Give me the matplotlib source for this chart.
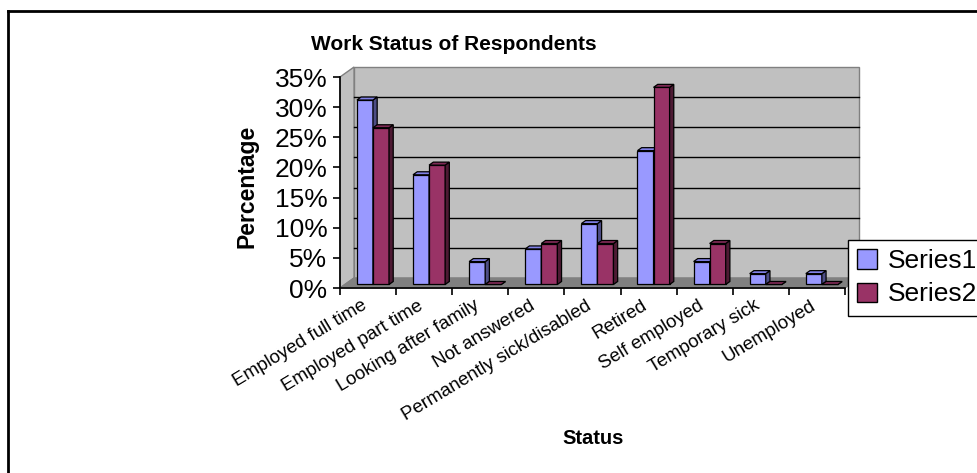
import matplotlib
matplotlib.use("Agg")
import matplotlib.pyplot as plt
from matplotlib.patches import Polygon, Patch
from matplotlib.lines import Line2D

plt.rcParams["font.family"] = ["Liberation Sans", "DejaVu Sans"]

categories = [
    "Employed full time",
    "Employed part time",
    "Looking after family",
    "Not answered",
    "Permanently sick/disabled",
    "Retired",
    "Self employed",
    "Temporary sick",
    "Unemployed",
]
series1 = [30.6, 18.2, 3.8, 5.9, 10.1, 22.2, 3.8, 1.8, 1.8]
series2 = [26.0, 19.8, 0.0, 6.8, 6.8, 32.7, 6.8, 0.0, 0.0]
yticks = [0, 5, 10, 15, 20, 25, 30, 35]

# oblique "3D" depth of the plot box, in data units (categories, percent)
DEPTH_X = 0.25
DEPTH_Y = 1.66
BAR_W = 0.286
YMAX = 35

S1_COLORS = ("#9999FF", "#8080E6", "#4D4D85")
S2_COLORS = ("#993366", "#7E2A55", "#4D1A33")
WALL = "#C0C0C0"
FLOOR = "#808080"


def face(ax, pts, color, z, edge="black", lw=0.9):
    ax.add_patch(Polygon(pts, closed=True, facecolor=color, edgecolor=edge,
                         lw=lw, clip_on=False, zorder=z, joinstyle="miter"))


def draw_bar(ax, x0, h, colors, z):
    front, top, side = colors
    fx, fy = DEPTH_X * 0.35, DEPTH_Y * 0.35
    bx, by = DEPTH_X * 0.65, DEPTH_Y * 0.65
    x1 = x0 + BAR_W
    face(ax, [(x0 + fx, fy), (x1 + fx, fy), (x1 + fx, h + fy), (x0 + fx, h + fy)], front, z)
    face(ax, [(x1 + fx, fy), (x1 + bx, by), (x1 + bx, h + by), (x1 + fx, h + fy)], side, z)
    face(ax, [(x0 + fx, h + fy), (x1 + fx, h + fy), (x1 + bx, h + by), (x0 + bx, h + by)], top, z)


fig = plt.figure(figsize=(9.77, 4.73), dpi=100)
ax = fig.add_axes([340 / 977, 1 - 288 / 473, 505 / 977, 211 / 473])
ax.set_facecolor("none")
n = len(categories)
ax.set_xlim(0, n)
ax.set_ylim(0, YMAX)

# walls and floor
face(ax, [(DEPTH_X, DEPTH_Y), (n + DEPTH_X, DEPTH_Y), (n + DEPTH_X, YMAX + DEPTH_Y),
          (DEPTH_X, YMAX + DEPTH_Y)], WALL, 0.5, edge="#808080", lw=1)
face(ax, [(0, 0), (DEPTH_X, DEPTH_Y), (DEPTH_X, YMAX + DEPTH_Y), (0, YMAX)],
     WALL, 0.6, edge="#808080", lw=1)
face(ax, [(0, 0), (n, 0), (n + DEPTH_X, DEPTH_Y), (DEPTH_X, DEPTH_Y)],
     FLOOR, 0.7, edge="#808080", lw=1)
for v in yticks[1:-1]:
    ax.plot([DEPTH_X, n + DEPTH_X], [v + DEPTH_Y, v + DEPTH_Y], color="black",
            lw=1, clip_on=False, zorder=0.8)

# bars
for i, (a, b) in enumerate(zip(series1, series2)):
    left = i + 0.5 - BAR_W
    draw_bar(ax, left, a, S1_COLORS, 3 + i * 0.01)
    draw_bar(ax, left + BAR_W, b, S2_COLORS, 3 + i * 0.01 + 0.005)

# axes
for s in ["top", "right"]:
    ax.spines[s].set_visible(False)
for s in ["left", "bottom"]:
    ax.spines[s].set_color("black")
    ax.spines[s].set_linewidth(1.2)
    ax.spines[s].set_zorder(2)
ax.set_yticks(yticks)
ax.set_yticklabels([f"{v}%" for v in yticks], fontsize=19)
ax.set_xticks(range(n + 1))
ax.set_xticklabels([])
ax.tick_params(direction="out", length=5, width=1.2, pad=4)

for i, lab in enumerate(categories):
    ax.text(i + 0.45, -2.7, lab, rotation=31, rotation_mode="anchor",
            ha="right", va="center", fontsize=13.5)

fig.text(454 / 977, 1 - 44 / 473, "Work Status of Respondents", ha="center",
         va="center", fontsize=15, fontweight="bold")
fig.text(247 / 977, 1 - 186 / 473, "Percentage", rotation=90, ha="center",
         va="center", fontsize=16.5, fontweight="bold")
fig.text(593 / 977, 1 - 438 / 473, "Status", ha="center", va="center",
         fontsize=14.5, fontweight="bold")

handles = [Patch(facecolor=S1_COLORS[0], edgecolor="black", label="Series1"),
           Patch(facecolor=S2_COLORS[0], edgecolor="black", label="Series2")]
leg = fig.legend(handles=handles, loc="upper left",
                 bbox_to_anchor=(848 / 977, 1 - 240 / 473), fontsize=19,
                 frameon=True, fancybox=False, edgecolor="black", framealpha=1,
                 handlelength=0.75, handleheight=0.75, borderpad=0.35,
                 labelspacing=0.35, handletextpad=0.4, borderaxespad=0)
leg.get_frame().set_linewidth(1)

# chart area border (left and top edges visible)
fig.add_artist(Line2D([8 / 977, 8 / 977], [0, 1 - 11 / 473], color="black", lw=2))
fig.add_artist(Line2D([8 / 977, 1], [1 - 11 / 473, 1 - 11 / 473], color="black", lw=2))

fig.savefig("out.png", dpi=100)
